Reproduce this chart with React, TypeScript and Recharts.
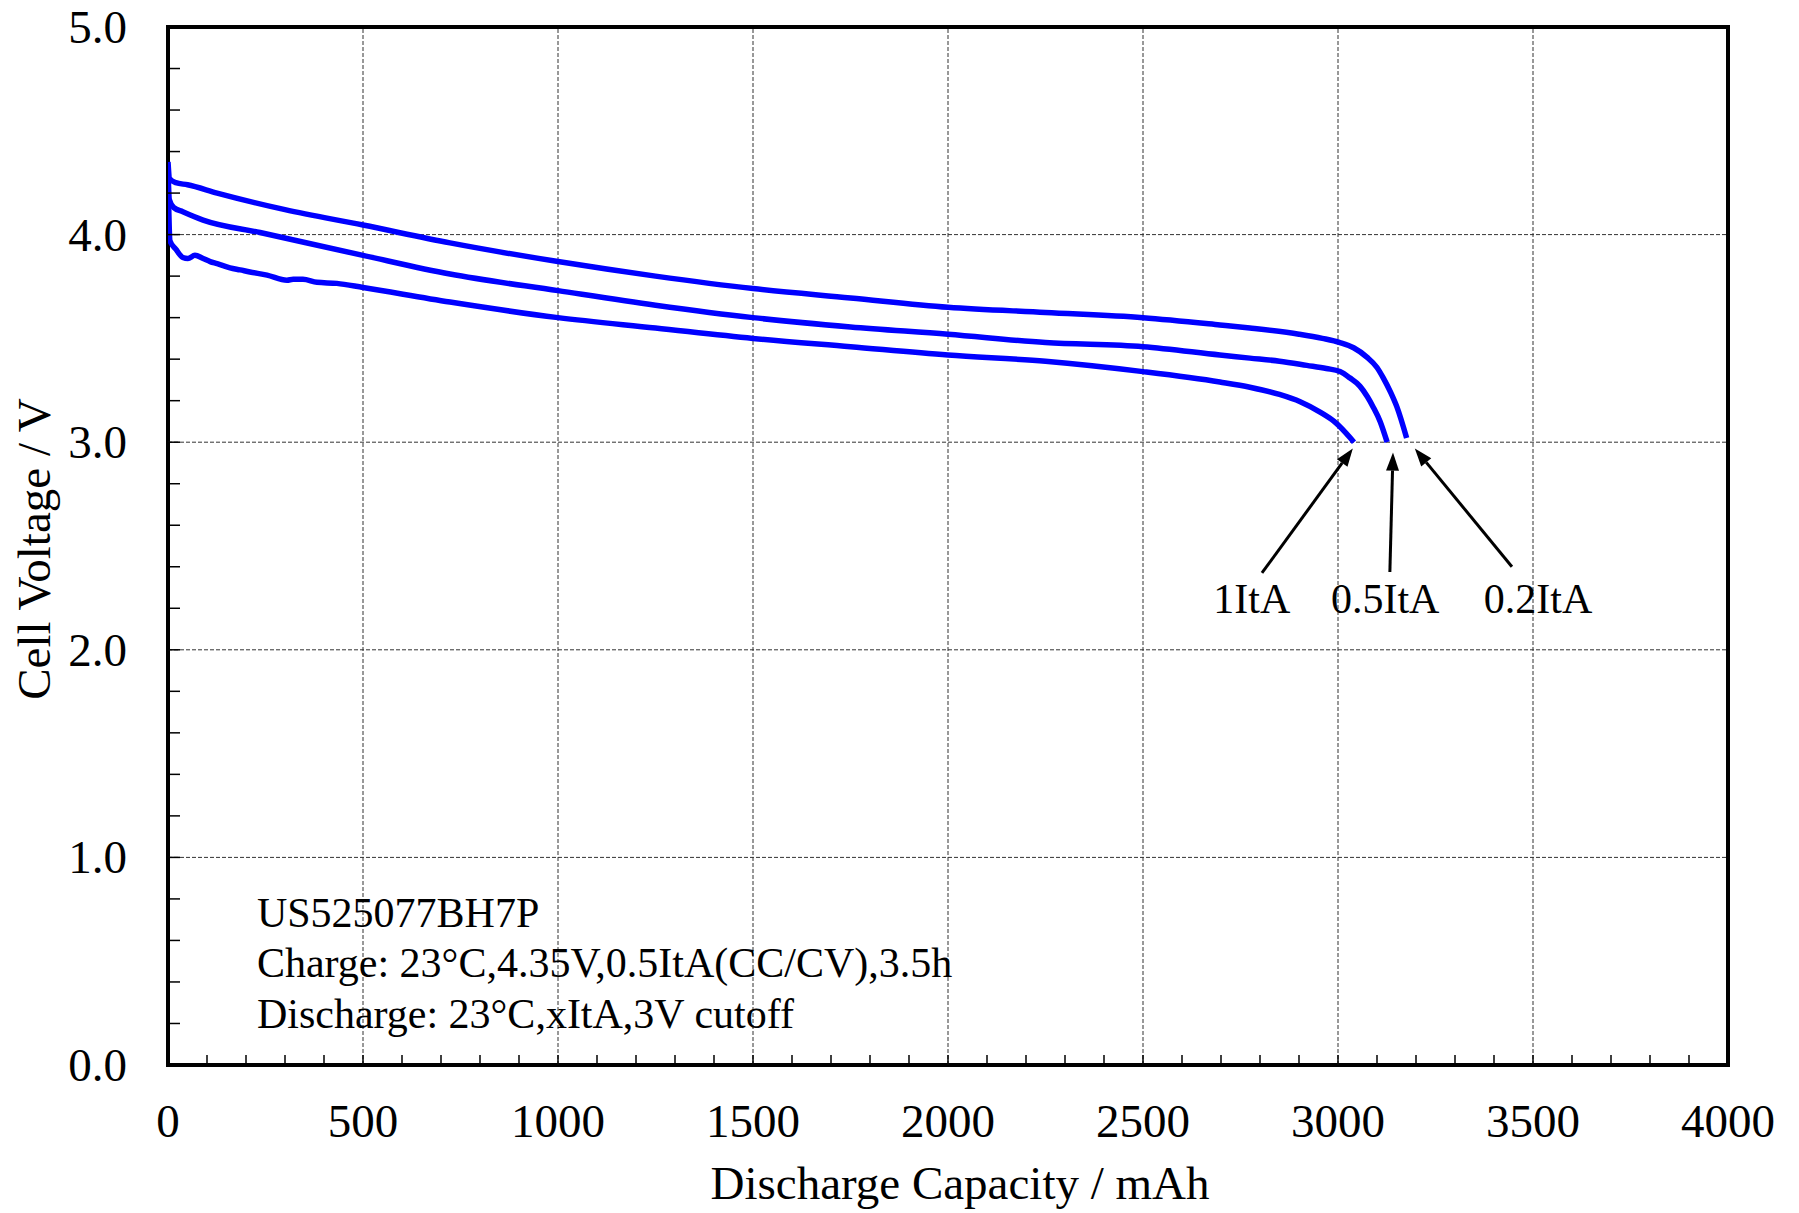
import React from 'react';
import { LineChart, Line, XAxis, YAxis, ReferenceLine, ReferenceArea, ReferenceDot } from 'recharts';

const FONT = '"Liberation Serif", "Times New Roman", serif';
const BLUE = '#0000ff';

// discharge capacity (mAh) / cell voltage (V)
const CAP_02 = [0, 4, 20, 50, 126, 300, 500, 723, 1000, 1250, 1500, 1750, 2000, 2250, 2500, 2697, 2774, 2900, 2960, 3005, 3040, 3074, 3100, 3116, 3135, 3151, 3176];
const VOLT_02 = [4.35, 4.27, 4.25, 4.24, 4.2, 4.12, 4.046, 3.96, 3.87, 3.8, 3.74, 3.695, 3.65, 3.625, 3.6, 3.565, 3.55, 3.52, 3.5, 3.48, 3.455, 3.41, 3.36, 3.31, 3.24, 3.17, 3.02];

const CAP_05 = [0, 3, 15, 38, 90, 236, 500, 723, 1000, 1250, 1500, 1750, 2000, 2250, 2500, 2697, 2774, 2850, 2920, 2970, 3005, 3030, 3056, 3075, 3090, 3108, 3126];
const VOLT_05 = [4.33, 4.17, 4.13, 4.11, 4.07, 4.01, 3.9, 3.81, 3.73, 3.66, 3.6, 3.555, 3.52, 3.48, 3.46, 3.42, 3.405, 3.39, 3.37, 3.355, 3.34, 3.31, 3.27, 3.22, 3.17, 3.1, 3.0];

const CAP_1 = [0, 5, 20, 38, 51, 69, 90, 108, 126, 159, 185, 210, 254, 305, 321, 346, 382, 433, 500, 723, 1000, 1250, 1500, 1750, 2000, 2250, 2500, 2697, 2774, 2850, 2903, 2954, 2990, 3020, 3041];
const VOLT_1 = [4.3, 3.97, 3.93, 3.89, 3.885, 3.9, 3.885, 3.87, 3.86, 3.84, 3.83, 3.82, 3.805, 3.78, 3.785, 3.785, 3.77, 3.765, 3.745, 3.675, 3.6, 3.55, 3.5, 3.46, 3.42, 3.39, 3.34, 3.29, 3.265, 3.23, 3.195, 3.145, 3.1, 3.045, 3.0];

const X_LABEL_TICKS = [0, 500, 1000, 1500, 2000, 2500, 3000, 3500, 4000];
const Y_LABEL_TICKS = [0, 1, 2, 3, 4, 5];

const NOTE_LINES = ['US525077BH7P', 'Charge: 23°C,4.35V,0.5ItA(CC/CV),3.5h', 'Discharge: 23°C,xItA,3V cutoff'];
const NOTE_X = 228;
const NOTE_Y = [0.665, 0.422, 0.178];

const RATE_LABELS = ['1ItA', '0.5ItA', '0.2ItA'];
const ARROW_FROM = [[2805, 2.37], [3133, 2.375], [3446, 2.4]];
const ARROW_TO = [[3038, 2.97], [3141, 2.95], [3197, 2.97]];
const LABEL_POS = [[2779, 2.177], [3121, 2.177], [3513, 2.177]];

const zip = (c: number[], v: number[]) => c.map((x, i) => ({ c: x, v: v[i] }));
const data02 = zip(CAP_02, VOLT_02);
const data05 = zip(CAP_05, VOLT_05);
const data1 = zip(CAP_1, VOLT_1);

const xTicks: number[] = [];
for (let t = 0; t <= 4000; t += 100) xTicks.push(t);
const yTicks: number[] = [];
for (let t = 0; t <= 50; t += 2) yTicks.push(t / 10);

const XTick = (props: any) => {
  const { x, y, payload } = props;
  const major = X_LABEL_TICKS.includes(payload.value);
  return (
    <g>
      <line x1={x} y1={y} x2={x} y2={y - 10} stroke="#000" strokeWidth={1.5} />
      {major && (
        <text x={x} y={y + 72} textAnchor="middle" fontSize={47} fontFamily={FONT} fill="#000">
          {payload.value}
        </text>
      )}
    </g>
  );
};

const YTick = (props: any) => {
  const { x, y, payload } = props;
  const major = Y_LABEL_TICKS.some(t => Math.abs(t - payload.value) < 1e-6);
  return (
    <g>
      <line x1={x} y1={y} x2={x + 12} y2={y} stroke="#000" strokeWidth={1.5} />
      {major && (
        <text x={x - 41} y={y + 16} textAnchor="end" fontSize={47} fontFamily={FONT} fill="#000">
          {payload.value.toFixed(1)}
        </text>
      )}
    </g>
  );
};

const Arrow = (p: any) => {
  const { x1, y1, x2, y2 } = p;
  const dx = x2 - x1;
  const dy = y2 - y1;
  const len = Math.hypot(dx, dy) || 1;
  const ux = dx / len;
  const uy = dy / len;
  const head = 18;
  const half = 6.5;
  const bx = x2 - ux * head;
  const by = y2 - uy * head;
  return (
    <g>
      <line x1={x1} y1={y1} x2={bx} y2={by} stroke="#000" strokeWidth={3} />
      <polygon
        points={`${x2},${y2} ${bx - uy * half},${by + ux * half} ${bx + uy * half},${by - ux * half}`}
        fill="#000"
      />
    </g>
  );
};

const textShape = (value: string, anchor: 'start' | 'middle') => (p: any) => (
  <text x={p.cx} y={p.cy} textAnchor={anchor} fontSize={42} fontFamily={FONT} fill="#000">
    {value}
  </text>
);

const xTitle = (p: any) => {
  const vb = p.viewBox;
  return (
    <text x={vb.x + vb.width / 2 + 12} y={1199} textAnchor="middle" fontSize={47} fontFamily={FONT} fill="#000">
      Discharge Capacity / mAh
    </text>
  );
};

const yTitle = (p: any) => {
  const vb = p.viewBox;
  const cy = vb.y + vb.height / 2 + 3;
  return (
    <text
      x={50}
      y={cy}
      transform={`rotate(-90, 50, ${cy})`}
      textAnchor="middle"
      fontSize={47}
      fontFamily={FONT}
      fill="#000"
    >
      Cell Voltage / V
    </text>
  );
};

export default function App() {
  return (
    <div style={{ position: 'absolute', left: 0, top: 0, width: 1799, height: 1213, background: '#fff' }}>
      <LineChart width={1799} height={1213} margin={{ top: 27, right: 71, bottom: 118, left: 108 }}>
        <XAxis
          dataKey="c"
          type="number"
          domain={[0, 4000]}
          ticks={xTicks}
          interval={0}
          tickSize={0}
          tickMargin={0}
          tick={<XTick />}
          axisLine={false}
          height={30}
          allowDataOverflow
          label={{ content: xTitle }}
        />
        <YAxis
          dataKey="v"
          type="number"
          domain={[0, 5]}
          ticks={yTicks}
          interval={0}
          tickSize={0}
          tickMargin={0}
          tick={<YTick />}
          axisLine={false}
          width={60}
          allowDataOverflow
          label={{ content: yTitle }}
        />
        {X_LABEL_TICKS.slice(1, -1).map(t => (
          <ReferenceLine key={`gx${t}`} x={t} stroke="#333" strokeWidth={1} strokeDasharray="4 2" />
        ))}
        {Y_LABEL_TICKS.slice(1, -1).map(t => (
          <ReferenceLine key={`gy${t}`} y={t} stroke="#333" strokeWidth={1} strokeDasharray="4 2" />
        ))}
        <ReferenceArea x1={0} x2={4000} y1={0} y2={5} fill="none" stroke="#000" strokeWidth={4} />
        <Line data={data02} dataKey="v" type="monotone" stroke={BLUE} strokeWidth={5.5} dot={false} isAnimationActive={false} />
        <Line data={data05} dataKey="v" type="monotone" stroke={BLUE} strokeWidth={5.5} dot={false} isAnimationActive={false} />
        <Line data={data1} dataKey="v" type="monotone" stroke={BLUE} strokeWidth={5.5} dot={false} isAnimationActive={false} />
        {RATE_LABELS.map((lab, i) => (
          <ReferenceLine
            key={`ar${lab}`}
            segment={[
              { x: ARROW_FROM[i][0], y: ARROW_FROM[i][1] },
              { x: ARROW_TO[i][0], y: ARROW_TO[i][1] },
            ]}
            shape={Arrow}
          />
        ))}
        {RATE_LABELS.map((lab, i) => (
          <ReferenceDot key={`lb${lab}`} x={LABEL_POS[i][0]} y={LABEL_POS[i][1]} r={0} shape={textShape(lab, 'middle')} />
        ))}
        {NOTE_LINES.map((line, i) => (
          <ReferenceDot key={`nt${i}`} x={NOTE_X} y={NOTE_Y[i]} r={0} shape={textShape(line, 'start')} />
        ))}
      </LineChart>
    </div>
  );
}
